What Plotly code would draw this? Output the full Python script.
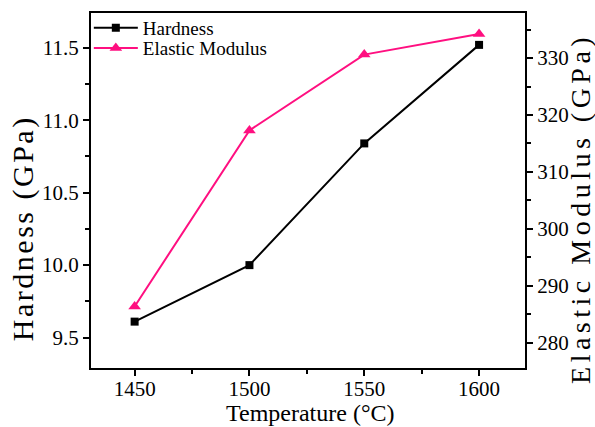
import plotly.graph_objects as go

# Sintering temperature (°C)
temperature = [1450, 1500, 1550, 1600]
# Hardness (GPa)
hardness = [9.61, 10.00, 10.84, 11.52]
# Elastic modulus (GPa)
elastic_modulus = [286.4, 317.3, 330.6, 334.2]

FONT = "Liberation Serif"
PINK = "#FF0F80"

fig = go.Figure()
fig.add_trace(go.Scatter(
    x=temperature, y=hardness, name="Hardness", mode="lines+markers",
    line=dict(color="black", width=2),
    marker=dict(symbol="square", size=8, color="black"),
    yaxis="y", legend="legend",
))
fig.add_trace(go.Scatter(
    x=temperature, y=elastic_modulus, name="Elastic Modulus", mode="lines+markers",
    line=dict(color=PINK, width=2),
    marker=dict(symbol="triangle-up", size=11, color=PINK),
    yaxis="y2", legend="legend2",
))

axis_common = dict(
    showgrid=False, zeroline=False, showline=True, linecolor="black", linewidth=2,
    ticks="outside", ticklen=6, tickwidth=2, tickcolor="black", automargin=False,
    tickfont=dict(family=FONT, size=21, color="black"),
)

legend_style = dict(
    xanchor="left", yanchor="middle",
    bgcolor="rgba(0,0,0,0)", borderwidth=0,
    font=dict(family=FONT, size=19, color="black"),
    itemwidth=44,
)

fig.update_layout(
    width=595, height=427,
    margin=dict(l=91, r=70, t=13, b=59, autoexpand=False),
    paper_bgcolor="white", plot_bgcolor="white",
    font=dict(family=FONT, color="black"),
    showlegend=True,
    legend=dict(x=-0.005, y=0.958, **legend_style),
    legend2=dict(x=-0.005, y=0.901, **legend_style),
    xaxis=dict(
        **axis_common, range=[1431, 1620], tickvals=temperature,
        mirror=True, ticklabelstandoff=-5,
        minor=dict(ticks="outside", ticklen=4, tickwidth=2, tickcolor="black", dtick=25, tick0=1425),
    ),
    yaxis=dict(
        **axis_common, range=[9.29, 11.74], dtick=0.5, tick0=9.5, tickformat=".1f",
        minor=dict(ticks="outside", ticklen=4, tickwidth=2, tickcolor="black", dtick=0.25, tick0=9.25),
    ),
    yaxis2=dict(
        **axis_common, overlaying="y", side="right", range=[275.6, 337.9], dtick=10, tick0=280,
        minor=dict(ticks="outside", ticklen=4, tickwidth=2, tickcolor="black", dtick=5, tick0=275),
    ),
    annotations=[
        dict(text="Temperature (°C)", xref="paper", yref="paper", x=0.505, y=0,
             xanchor="center", yanchor="top", yshift=-30, showarrow=False,
             font=dict(family=FONT, size=24, color="black")),
        dict(text='<span style="letter-spacing:2.5px">Hardness (GPa)</span>',
             xref="paper", yref="paper", x=0, y=0.394,
             xanchor="center", yanchor="middle", xshift=-68, textangle=-90, showarrow=False,
             font=dict(family=FONT, size=30, color="black")),
        dict(text='<span style="letter-spacing:4.5px">Elastic Modulus (GPa)</span>',
             xref="paper", yref="paper", x=1, y=0.448,
             xanchor="center", yanchor="middle", xshift=56, textangle=-90, showarrow=False,
             font=dict(family=FONT, size=28, color="black")),
    ],
)

fig.write_html("out.html")
